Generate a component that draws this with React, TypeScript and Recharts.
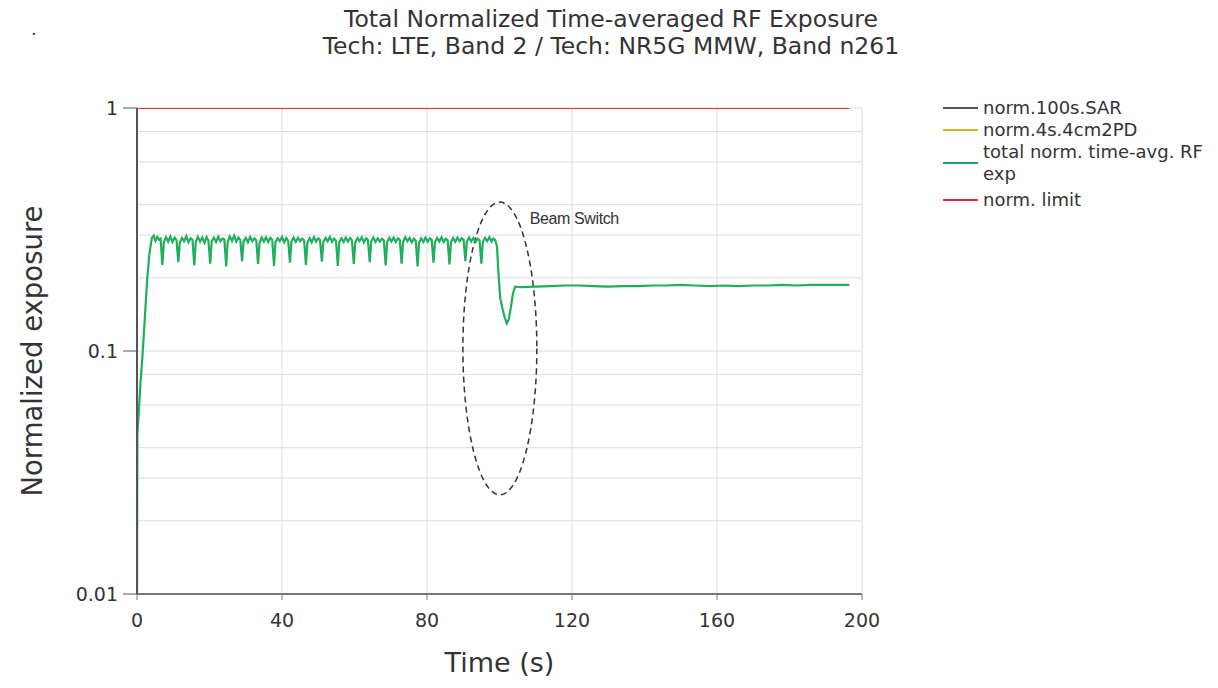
import React from 'react';
import {
  LineChart,
  Line,
  XAxis,
  YAxis,
  CartesianGrid,
  ReferenceArea,
  Label,
} from 'recharts';

// ---- data (time in s, normalized exposure) ----
const rampUp: [number, number][] = [
  [0, 0.0101], [0.1, 0.045], [0.35, 0.052], [1.0, 0.075], [1.6, 0.1], [2.2, 0.14],
  [2.8, 0.196], [3.4, 0.25], [4.1, 0.292], [4.6, 0.298], [5.1, 0.284], [5.6, 0.295], [6.1, 0.287],
];

const plateau: [number, number][] = [
  [6.5, 0.29], [7.0, 0.226], [7.4, 0.28], [8.0, 0.294], [8.6, 0.282], [9.2, 0.296], [9.8, 0.281], [10.4, 0.293],
  [10.9, 0.286], [11.4, 0.232], [11.8, 0.279], [12.4, 0.292], [13.0, 0.283], [13.6, 0.297], [14.2, 0.28], [14.8, 0.291],
  [15.3, 0.287], [15.8, 0.225], [16.2, 0.281], [16.8, 0.295], [17.4, 0.282], [18.0, 0.293], [18.6, 0.279], [19.2, 0.294],
  [19.7, 0.285], [20.2, 0.229], [20.6, 0.282], [21.2, 0.293], [21.8, 0.281], [22.4, 0.296], [23.0, 0.283], [23.6, 0.29],
  [24.1, 0.288], [24.6, 0.223], [25.0, 0.28], [25.6, 0.296], [26.2, 0.284], [26.8, 0.298], [27.4, 0.282], [28.0, 0.293],
  [28.5, 0.286], [29.0, 0.234], [29.4, 0.283], [30.0, 0.292], [30.6, 0.28], [31.2, 0.295], [31.8, 0.283], [32.4, 0.291],
  [32.9, 0.285], [33.4, 0.228], [33.8, 0.279], [34.4, 0.293], [35.0, 0.282], [35.6, 0.294], [36.2, 0.281], [36.8, 0.292],
  [37.3, 0.287], [37.8, 0.224], [38.2, 0.281], [38.8, 0.291], [39.4, 0.283], [40.0, 0.295], [40.6, 0.28], [41.2, 0.292],
  [41.7, 0.284], [42.2, 0.231], [42.6, 0.282], [43.2, 0.293], [43.8, 0.281], [44.4, 0.292], [45.0, 0.283], [45.6, 0.29],
  [46.1, 0.285], [46.6, 0.226], [47.0, 0.279], [47.6, 0.291], [48.2, 0.28], [48.8, 0.294], [49.4, 0.282], [50.0, 0.291],
  [50.5, 0.286], [51.0, 0.233], [51.4, 0.281], [52.0, 0.292], [52.6, 0.283], [53.2, 0.295], [53.8, 0.281], [54.4, 0.29],
  [54.9, 0.284], [55.4, 0.224], [55.8, 0.28], [56.4, 0.291], [57.0, 0.281], [57.6, 0.293], [58.2, 0.282], [58.8, 0.292],
  [59.3, 0.285], [59.8, 0.228], [60.2, 0.279], [60.8, 0.292], [61.4, 0.283], [62.0, 0.294], [62.6, 0.28], [63.2, 0.291],
  [63.7, 0.286], [64.2, 0.232], [64.6, 0.282], [65.2, 0.293], [65.8, 0.281], [66.4, 0.291], [67.0, 0.282], [67.6, 0.29],
  [68.1, 0.285], [68.6, 0.225], [69.0, 0.28], [69.6, 0.292], [70.2, 0.282], [70.8, 0.293], [71.4, 0.281], [72.0, 0.291],
  [72.5, 0.286], [73.0, 0.229], [73.4, 0.281], [74.0, 0.294], [74.6, 0.283], [75.2, 0.292], [75.8, 0.28], [76.4, 0.29],
  [76.9, 0.284], [77.4, 0.223], [77.8, 0.279], [78.4, 0.291], [79.0, 0.281], [79.6, 0.293], [80.2, 0.282], [80.8, 0.291],
  [81.3, 0.286], [81.8, 0.231], [82.2, 0.281], [82.8, 0.292], [83.4, 0.282], [84.0, 0.294], [84.6, 0.281], [85.2, 0.29],
  [85.7, 0.285], [86.2, 0.227], [86.6, 0.28], [87.2, 0.292], [87.8, 0.281], [88.4, 0.293], [89.0, 0.283], [89.6, 0.291],
  [90.1, 0.286], [90.6, 0.234], [91.0, 0.282], [91.6, 0.293], [92.2, 0.282], [92.8, 0.292], [93.4, 0.281], [94.0, 0.29],
  [94.5, 0.285], [95.0, 0.229], [95.4, 0.281], [96.0, 0.292], [96.6, 0.283], [97.2, 0.294], [97.8, 0.282], [98.3, 0.29],
];

const beamSwitch: [number, number][] = [
  [98.8, 0.286], [99.3, 0.27], [99.7, 0.21], [100.2, 0.165], [100.8, 0.15], [101.4, 0.138],
  [102.0, 0.13], [102.5, 0.134], [103.1, 0.15], [103.7, 0.172], [104.3, 0.184],
];

const settled: [number, number][] = [
  [106, 0.183], [110, 0.184], [114, 0.185], [118, 0.186], [122, 0.186], [126, 0.185],
  [130, 0.184], [134, 0.185], [138, 0.185], [142, 0.186], [146, 0.186], [150, 0.187],
  [154, 0.186], [158, 0.185], [162, 0.186], [166, 0.185], [170, 0.186], [174, 0.186],
  [178, 0.187], [182, 0.186], [186, 0.187], [190, 0.187], [196.5, 0.187],
];

const limitLine: [number, number][] = [[0, 1], [196.5, 1]];

const xTicks = [0, 40, 80, 120, 160, 200];
const yTicks = [0.01, 0.1, 1];
const yGridValues = [
  0.01, 0.02, 0.03, 0.04, 0.05, 0.06, 0.07, 0.08, 0.09,
  0.1, 0.2, 0.3, 0.4, 0.5, 0.6, 0.7, 0.8, 0.9, 1,
];

// annotation ellipse extent (data units)
const beamSwitchTime: [number, number] = [89.9, 110.3];
const beamSwitchRange: [number, number] = [0.0256, 0.41];

const legendItems = [
  { label: 'norm.100s.SAR', color: '#555555' },
  { label: 'norm.4s.4cm2PD', color: '#d9b31c' },
  { label: 'total norm. time-avg. RF exp', color: '#1e9e6a' },
  { label: 'norm. limit', color: '#e8253c' },
];

const toRows = (pts: [number, number][]) => pts.map(([t, v]) => ({ t, v }));
const greenData = toRows([...rampUp, ...plateau, ...beamSwitch, ...settled]);
const redData = toRows(limitLine);

const FONT = "'DejaVu Sans', Verdana, sans-serif";
const TEXT = '#333333';

const EllipseShape = (props: any) => {
  const { x, y, width, height } = props;
  if (x == null || y == null) return null;
  return (
    <g>
      <ellipse
        cx={x + width / 2}
        cy={y + height / 2}
        rx={width / 2}
        ry={height / 2}
        fill="none"
        stroke="#333"
        strokeWidth={1.5}
        strokeDasharray="6 4"
      />
      <text
        x={x + width - 7}
        y={y + 22}
        fontFamily="'Liberation Sans', Arial, sans-serif"
        fontSize={16}
        letterSpacing={-0.4}
        fill="#333"
      >
        Beam Switch
      </text>
    </g>
  );
};

export default function App() {
  return (
    <div
      style={{
        position: 'absolute',
        left: 0,
        top: 0,
        width: 1218,
        height: 688,
        background: '#ffffff',
        fontFamily: FONT,
        color: TEXT,
        overflow: 'hidden',
      }}
    >
      <div
        style={{
          position: 'absolute',
          left: 0,
          top: 6,
          width: 1222,
          textAlign: 'center',
          fontSize: 23.5,
          lineHeight: '27px',
          color: TEXT,
        }}
      >
        <div>Total Normalized Time-averaged RF Exposure</div>
        <div>Tech: LTE, Band 2 / Tech: NR5G MMW, Band n261</div>
      </div>
      <div style={{ position: 'absolute', left: 31, top: 18, fontSize: 18, color: TEXT }}>.</div>

      <LineChart
        width={1218}
        height={688}
        margin={{ top: 108, right: 356, bottom: 24, left: 37 }}
      >
        <CartesianGrid
          stroke="#dcdcdc"
          strokeWidth={1}
          horizontalValues={yGridValues}
          verticalValues={xTicks}
        />
        <XAxis
          type="number"
          dataKey="t"
          domain={[0, 200]}
          ticks={xTicks}
          height={70}
          tickSize={6}
          tickMargin={14}
          stroke="#777"
          axisLine={{ stroke: '#777', strokeWidth: 2 }}
          tickLine={{ stroke: '#777' }}
          tick={{ fill: TEXT, fontSize: 19, fontFamily: FONT }}
          allowDataOverflow
        >
          <Label
            content={(p: any) => {
              const vb = p.viewBox || {};
              return (
                <text
                  x={vb.x + vb.width / 2}
                  y={vb.y + 78}
                  textAnchor="middle"
                  fontSize={27}
                  fontFamily={FONT}
                  fill={TEXT}
                >
                  Time (s)
                </text>
              );
            }}
          />
        </XAxis>
        <YAxis
          type="number"
          scale="log"
          domain={[0.01, 1]}
          ticks={yTicks}
          width={100}
          tickSize={14}
          tickMargin={5}
          allowDataOverflow
          axisLine={{ stroke: '#555', strokeWidth: 2 }}
          tickLine={{ stroke: '#555' }}
          tickFormatter={(v: number) => String(v)}
          tick={{ fill: TEXT, fontSize: 19, fontFamily: FONT }}
        >
          <Label
            content={(p: any) => {
              const vb = p.viewBox || {};
              const cx = 32;
              const cy = vb.y + vb.height / 2;
              return (
                <text
                  x={cx}
                  y={cy}
                  transform={`rotate(-90, ${cx}, ${cy})`}
                  textAnchor="middle"
                  dominantBaseline="central"
                  fontSize={27.5}
                  fontFamily={FONT}
                  fill={TEXT}
                >
                  Normalized exposure
                </text>
              );
            }}
          />
        </YAxis>
        <ReferenceArea
          x1={beamSwitchTime[0]}
          x2={beamSwitchTime[1]}
          y1={beamSwitchRange[0]}
          y2={beamSwitchRange[1]}
          shape={EllipseShape}
        />
        <Line
          data={greenData}
          dataKey="v"
          type="linear"
          stroke="#1fae5c"
          strokeWidth={2.2}
          dot={false}
          isAnimationActive={false}
        />
        <Line
          data={redData}
          dataKey="v"
          type="linear"
          stroke="#e8303a"
          strokeWidth={2}
          dot={false}
          isAnimationActive={false}
        />
      </LineChart>

      <div
        style={{
          position: 'absolute',
          left: 943,
          top: 97,
          width: 275,
          fontSize: 18,
          lineHeight: '22px',
          color: TEXT,
        }}
      >
        {legendItems.map((it, i) => (
          <div
            key={it.label}
            style={{
              display: 'flex',
              alignItems: 'center',
              marginTop: i === 3 ? 4 : 0,
            }}
          >
            <div
              style={{
                width: 35,
                height: 2,
                background: it.color,
                flex: '0 0 auto',
                marginRight: 5,
              }}
            />
            <div style={{ width: 235 }}>{it.label}</div>
          </div>
        ))}
      </div>
    </div>
  );
}
